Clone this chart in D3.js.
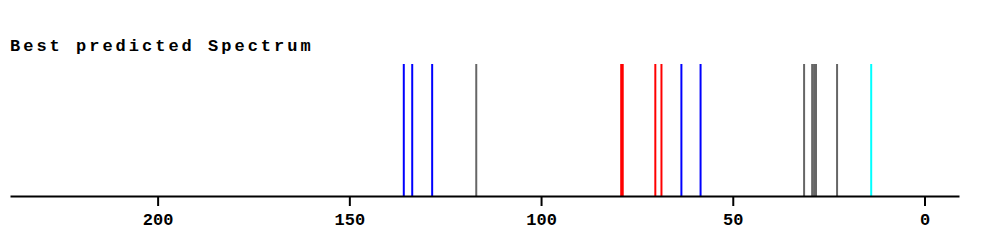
<!DOCTYPE html>
<html>
<head>
<meta charset="utf-8">
<script src="https://cdn.jsdelivr.net/npm/d3@7"></script>
<style>
  body { margin: 0; background: #fff; }
  svg { display: block; }
</style>
</head>
<body>
<script>
// peaks of the predicted spectrum, grouped by colour
var bluePeaks = [135.8, 133.6, 128.4, 63.4, 58.4];
var redPeaks = [79.1, 78.7, 70.2, 68.6];
var grayPeaks = [116.9, 31.4, 29.3, 28.8, 28.3, 22.8];
var cyanPeaks = [13.9];
var tickValues = [200, 150, 100, 50, 0];
var title = 'Best predicted Spectrum';

var svgWidth = 993;
var svgHeight = 249;
var axisY = 196;
var peakTop = 64;

var peaks = []
    .concat(bluePeaks.map(function(v) { return { x: v, color: '#0000ff' }; }))
    .concat(redPeaks.map(function(v) { return { x: v, color: '#ff0000' }; }))
    .concat(grayPeaks.map(function(v) { return { x: v, color: '#666666' }; }))
    .concat(cyanPeaks.map(function(v) { return { x: v, color: '#00ffff' }; }));

var xScale = d3.scaleLinear()
    .domain([238.5, -9])
    .range([10, 959]);

var svg = d3.select('body').append('svg')
    .attr('width', svgWidth)
    .attr('height', svgHeight);

svg.append('text')
    .attr('x', 10)
    .attr('y', 51)
    .attr('font-family', '"Liberation Mono", "Courier New", monospace')
    .attr('font-weight', 'bold')
    .attr('font-size', 17)
    .attr('letter-spacing', '3px')
    .text(title);

svg.selectAll('line.peak')
    .data(peaks)
    .enter()
    .append('line')
    .attr('class', 'peak')
    .attr('x1', function(d) { return xScale(d.x); })
    .attr('x2', function(d) { return xScale(d.x); })
    .attr('y1', peakTop)
    .attr('y2', axisY)
    .attr('stroke', function(d) { return d.color; })
    .attr('stroke-width', 2);

var xAxis = d3.axisBottom(xScale)
    .tickValues(tickValues)
    .tickSizeInner(10)
    .tickSizeOuter(0)
    .tickPadding(7);

var gx = svg.append('g')
    .attr('transform', 'translate(0,' + axisY + ')')
    .call(xAxis);

gx.select('.domain').attr('stroke', '#000').attr('stroke-width', 2);
gx.selectAll('.tick line').attr('stroke', '#000').attr('stroke-width', 2);
gx.selectAll('.tick text')
    .attr('font-family', '"Liberation Mono", "Courier New", monospace')
    .attr('font-weight', 'bold')
    .attr('font-size', 17)
    .attr('fill', '#000');
</script>
</body>
</html>
